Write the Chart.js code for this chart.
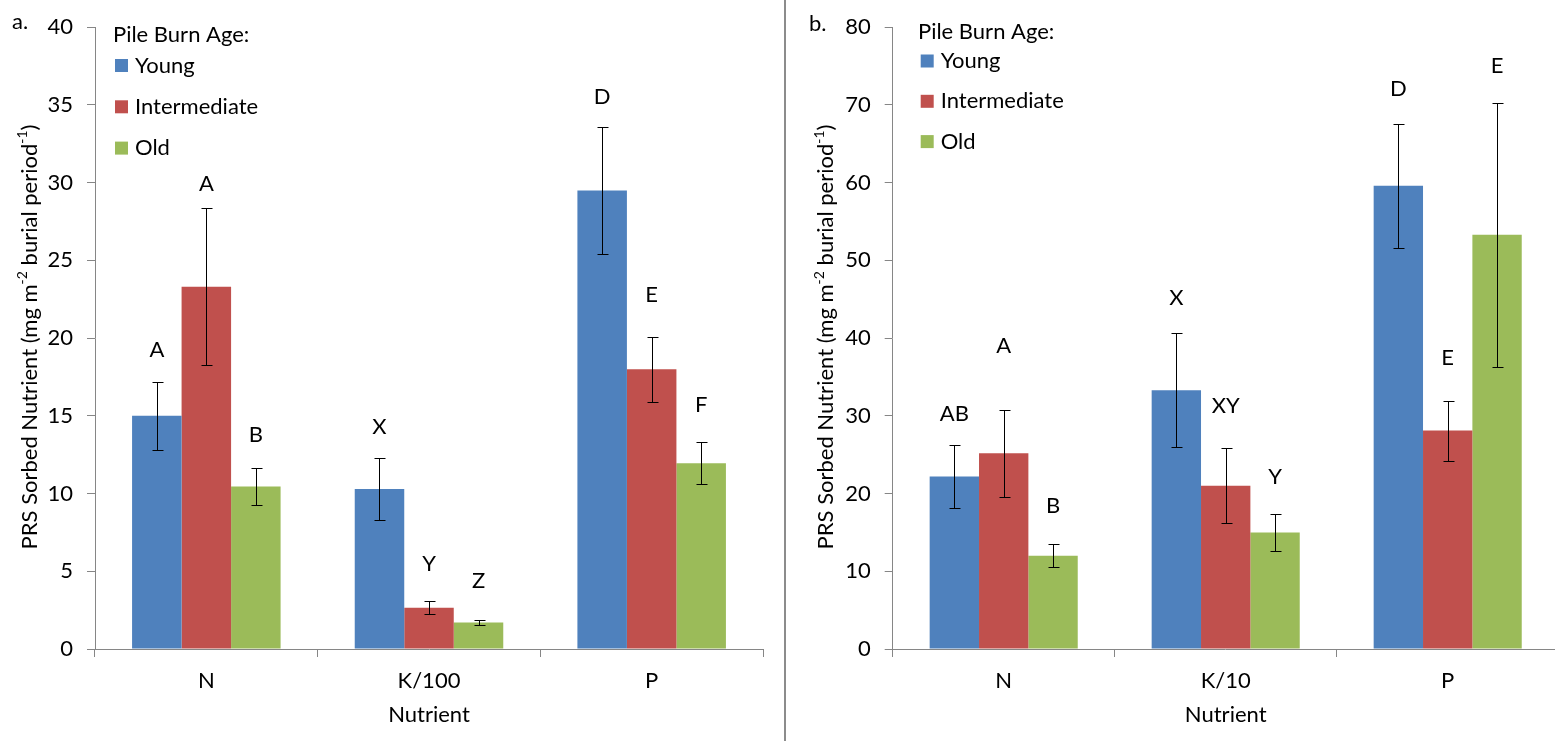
<!DOCTYPE html>
<html>
<head>
<meta charset="utf-8">
<script src="https://cdn.jsdelivr.net/npm/chart.js@4.4.1/dist/chart.umd.min.js"></script>
<style>
  html, body { margin: 0; padding: 0; background: #fff; overflow: hidden; }
  #wrap { position: relative; width: 1555px; height: 741px; overflow: hidden; }
  canvas { position: absolute; top: 0; }
  #chartA { left: 0; }
  #chartB { left: 786px; }
  #divider { position: absolute; left: 784px; top: 0; width: 2px; height: 741px; background: #8c8c8c; }
</style>
</head>
<body>
<div id="wrap">
  <canvas id="chartA" width="784" height="741"></canvas>
  <div id="divider"></div>
  <canvas id="chartB" width="776" height="741"></canvas>
</div>
<script>
// age classes shared by both panels
const ageGroups = ['Young', 'Intermediate', 'Old'];
const ageColors = ['#4f81bd', '#c0504d', '#9bbb59'];

// panel a: category labels, means and errors per age class
const nutrientsA = ['N', 'K/100', 'P'];
const youngA = [15.0, 10.3, 29.5];
const interA = [23.3, 2.65, 18.0];
const oldA = [10.45, 1.7, 11.95];
const youngErrA = [2.2, 2.0, 4.1];
const interErrA = [5.05, 0.43, 2.1];
const oldErrA = [1.2, 0.15, 1.35];
const youngLettersA = ['A', 'X', 'D'];
const interLettersA = ['A', 'Y', 'E'];
const oldLettersA = ['B', 'Z', 'F'];
const youngLetterAtA = [19.25, 14.3, 35.5];
const interLetterAtA = [29.9, 5.5, 22.8];
const oldLetterAtA = [13.75, 4.4, 15.7];
const ticksA = { max: 40, step: 5 };

// panel b
const nutrientsB = ['N', 'K/10', 'P'];
const youngB = [22.2, 33.3, 59.6];
const interB = [25.2, 21.0, 28.1];
const oldB = [12.0, 15.0, 53.3];
const youngErrB = [4.05, 7.3, 7.95];
const interErrB = [5.6, 4.8, 3.85];
const oldErrB = [1.5, 2.35, 17.0];
const youngLettersB = ['AB', 'X', 'D'];
const interLettersB = ['A', 'XY', 'E'];
const oldLettersB = ['B', 'Y', 'E'];
const youngLetterAtB = [30.2, 45.2, 72.1];
const interLetterAtB = [39.0, 31.25, 37.4];
const oldLetterAtB = [18.35, 22.2, 75.0];
const ticksB = { max: 80, step: 10 };

const FONT = 'Lato';
const FONT_SIZE = 22;
const axisGray = '#868686';

Chart.defaults.font.family = FONT;
Chart.defaults.font.size = FONT_SIZE;
Chart.defaults.color = '#000';

// error bars, significance letters, legend, panel tag and y title
const panelDecor = {
  id: 'panelDecor',
  afterDatasetsDraw(chart) {
    const ctx = chart.ctx;
    const y = chart.scales.y;
    ctx.save();
    ctx.font = FONT_SIZE + 'px ' + FONT;
    ctx.textAlign = 'center';
    ctx.textBaseline = 'middle';
    chart.data.datasets.forEach((ds, i) => {
      chart.getDatasetMeta(i).data.forEach((bar, j) => {
        const v = ds.data[j], e = ds.errors[j];
        const x = Math.round(bar.x) + 0.5;
        const top = Math.round(y.getPixelForValue(v + e)) + 0.5;
        const bot = Math.round(y.getPixelForValue(v - e)) + 0.5;
        ctx.strokeStyle = '#000';
        ctx.lineWidth = 1;
        ctx.beginPath();
        ctx.moveTo(x, top); ctx.lineTo(x, bot);
        ctx.moveTo(x - 5, top); ctx.lineTo(x + 6, top);
        ctx.moveTo(x - 5, bot); ctx.lineTo(x + 6, bot);
        ctx.stroke();
        ctx.fillStyle = '#000';
        ctx.fillText(ds.letters[j], bar.x, y.getPixelForValue(ds.letterAt[j]));
      });
    });
    ctx.restore();
  },
  afterDraw(chart, args, opts) {
    const ctx = chart.ctx;
    ctx.save();
    ctx.fillStyle = '#000';
    ctx.font = FONT_SIZE + 'px ' + FONT;
    ctx.textBaseline = 'middle';
    ctx.textAlign = 'left';

    // legend block
    ctx.fillText('Pile Burn Age:', opts.legend.titleX, opts.legend.titleY);
    chart.data.datasets.forEach((ds, i) => {
      const cy = opts.legend.rowY + i * opts.legend.rowGap;
      ctx.fillStyle = ds.backgroundColor;
      ctx.fillRect(opts.legend.boxX, cy - 6.5, 13, 13);
      ctx.fillStyle = '#000';
      ctx.fillText(ds.label, opts.legend.boxX + 20, cy);
    });

    // panel tag
    ctx.textBaseline = 'alphabetic';
    ctx.fillText(opts.tag.text, opts.tag.x, opts.tag.y);

    // rotated y title with superscripts
    const parts = [
      ['PRS Sorbed Nutrient (mg m', false], ['-2', true],
      [' burial period', false], ['-1', true], [')', false]
    ];
    const supSize = Math.round(FONT_SIZE * 0.65);
    const fontOf = sup => (sup ? supSize : FONT_SIZE) + 'px ' + FONT;
    let total = 0;
    parts.forEach(([t, sup]) => { ctx.font = fontOf(sup); total += ctx.measureText(t).width; });
    ctx.translate(opts.ytitle.x, opts.ytitle.y);
    ctx.rotate(-Math.PI / 2);
    let cx = -total / 2;
    parts.forEach(([t, sup]) => {
      ctx.font = fontOf(sup);
      ctx.fillText(t, cx, sup ? -FONT_SIZE * 0.42 : 0);
      cx += ctx.measureText(t).width;
    });
    ctx.restore();
  }
};

function makePanel(id, p) {
  return new Chart(document.getElementById(id), {
    type: 'bar',
    data: {
      labels: p.labels,
      datasets: ageGroups.map((name, i) => ({
        label: name,
        data: p.values[i],
        errors: p.errors[i],
        letters: p.letters[i],
        letterAt: p.letterAt[i],
        backgroundColor: ageColors[i],
        borderWidth: 0,
        categoryPercentage: 0.667,
        barPercentage: 1.0
      }))
    },
    options: {
      responsive: false,
      animation: false,
      devicePixelRatio: 1,
      layout: { padding: { left: 0, right: p.padRight, top: 22, bottom: 0 } },
      plugins: {
        legend: { display: false },
        tooltip: { enabled: false },
        panelDecor: p.decor
      },
      scales: {
        x: {
          grid: { drawOnChartArea: false, tickLength: 8, color: axisGray, offset: true },
          border: { color: axisGray },
          ticks: { padding: 11 },
          title: { display: true, text: 'Nutrient', padding: { top: 4, bottom: 13 } },
          afterFit: s => { s.height = 92; }
        },
        y: {
          min: 0,
          max: p.ticks.max,
          ticks: { stepSize: p.ticks.step, padding: 14 },
          grid: { drawOnChartArea: false, tickLength: 8, color: axisGray },
          border: { color: axisGray },
          afterFit: s => { s.width = p.axisWidth; }
        }
      }
    },
    plugins: [panelDecor]
  });
}

makePanel('chartA', {
  labels: nutrientsA,
  values: [youngA, interA, oldA],
  errors: [youngErrA, interErrA, oldErrA],
  letters: [youngLettersA, interLettersA, oldLettersA],
  letterAt: [youngLetterAtA, interLetterAtA, oldLetterAtA],
  ticks: ticksA,
  axisWidth: 95,
  padRight: 21,
  decor: {
    legend: { titleX: 113, titleY: 35, boxX: 115, rowY: 65.5, rowGap: 41.3 },
    tag: { text: 'a.', x: 12, y: 29 },
    ytitle: { x: 36.7, y: 337 }
  }
});

makePanel('chartB', {
  labels: nutrientsB,
  values: [youngB, interB, oldB],
  errors: [youngErrB, interErrB, oldErrB],
  letters: [youngLettersB, interLettersB, oldLettersB],
  letterAt: [youngLetterAtB, interLetterAtB, oldLetterAtB],
  ticks: ticksB,
  axisWidth: 106.7,
  padRight: 3.3,
  decor: {
    legend: { titleX: 132, titleY: 32, boxX: 134.7, rowY: 61, rowGap: 40.3 },
    tag: { text: 'b.', x: 23, y: 31 },
    ytitle: { x: 47, y: 337 }
  }
});
</script>
</body>
</html>
